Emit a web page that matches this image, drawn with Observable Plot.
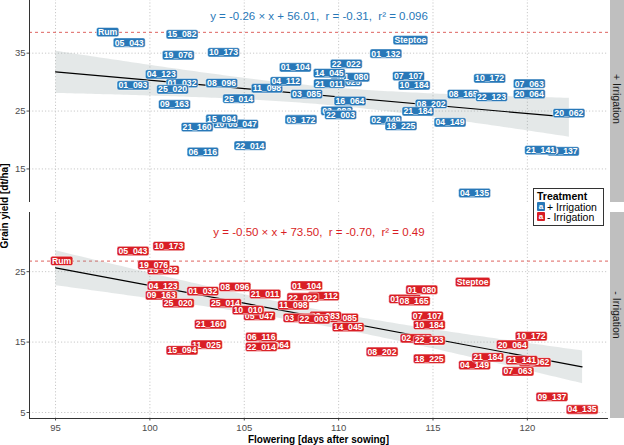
<!DOCTYPE html>
<html><head><meta charset="utf-8">
<script src="https://cdn.jsdelivr.net/npm/d3@7"></script>
<script src="https://cdn.jsdelivr.net/npm/@observablehq/plot@0.6"></script>
<style>
body{margin:0;background:#fff;font-family:"Liberation Sans",Arial,sans-serif;}
#wrap{position:relative;width:624px;height:445px;overflow:hidden;background:#fff;}
.pl{position:absolute;left:0;}
.strip{position:absolute;left:610px;width:14px;background:#bfbfbf;}
.strip span{position:absolute;left:50%;top:50%;transform:translate(-50%,-50%) rotate(90deg);white-space:nowrap;font-size:10.5px;color:#1a1a1a;}
#ylab{position:absolute;left:4px;top:206px;transform:translate(-50%,-50%) rotate(-90deg);white-space:nowrap;font-weight:bold;font-size:10px;color:#000;}
#xlab{position:absolute;left:318.5px;top:439px;transform:translate(-50%,-50%);white-space:nowrap;font-weight:bold;font-size:10px;color:#000;}
#legend{position:absolute;left:533px;top:188px;width:69px;height:36px;border:1px solid #333;background:#fff;font-size:10.5px;color:#000;}
#legend .t{position:absolute;left:3px;top:1px;font-weight:bold;font-size:10.5px;}
#legend .it{position:absolute;left:3px;white-space:nowrap;line-height:10px;}
#legend .sw{display:inline-block;width:8px;height:9px;color:#fff;font-weight:bold;font-size:8px;text-align:center;line-height:9px;border-radius:1px;margin-right:2px;vertical-align:top;}
</style></head><body><div id="wrap"></div>
<script>
// ---------- data ----------
const colorPlus = "#2878b8";
const colorMinus = "#d91e25";
const checkName = "Rum";

const genoPlus = ["Rum","05_043","15_082","19_076","10_173","01_032","04_123","01_093","25_020","08_096","09_163","25_014","11_098","10_010","05_047","15_094","21_160","06_116","22_014","01_104","04_112","03_085","03_172","22_022","11_025","01_080","14_045","21_011","16_064","03_083","22_003","01_132","Steptoe","07_107","10_184","02_049","18_225","08_202","21_184","04_149","08_165","22_123","10_172","07_063","20_064","20_062","09_137","21_141","04_135"];
const floweringPlus = [95,98.9,101.7,101.5,103.9,101.7,100.6,99.1,101.2,103.8,101.3,104.7,106.2,104.2,104.9,103.8,102.5,102.8,105.3,107.7,107.2,108.3,108.0,110.4,110.4,110.8,109.5,109.5,110.6,109.9,110.1,112.5,113.8,113.7,114.0,112.5,113.3,114.9,114.2,115.9,116.6,118.1,118.0,120.1,120.1,122.2,121.9,120.7,117.2];
const yieldPlus = [38.6,36.8,38.2,34.6,35.1,29.8,31.3,29.4,28.7,29.8,26.1,27.1,28.9,22.8,22.7,23.6,22.2,17.9,19.0,32.5,30.1,27.9,23.5,33.1,30.0,30.8,31.5,29.7,26.7,25.0,24.3,34.9,37.2,31.0,29.4,23.4,22.4,26.2,24.9,23.0,27.9,27.4,30.6,29.7,27.9,24.6,18.0,18.2,10.8];

const genoMinus = ["Rum","05_043","10_173","15_082","19_076","04_123","09_163","25_020","01_032","08_096","21_011","25_014","05_047","10_010","21_160","11_025","15_094","16_064","06_116","22_014","01_104","04_112","22_022","11_098","03_085","03_083","03_172","22_003","14_045","01_132","01_080","08_165","07_107","10_184","02_049","22_123","08_202","18_225","04_149","21_184","10_172","20_064","20_062","21_141","07_063","09_137","04_135","Steptoe"];
const floweringMinus = [95,99.1,101.0,100.7,100.2,100.7,100.6,101.5,102.8,104.5,106.1,104.0,105.8,105.2,103.2,103.0,101.7,106.6,105.9,105.9,108.3,109.2,108.1,107.6,110.2,109.3,107.9,108.7,110.5,113.5,114.4,114.0,114.7,114.8,114.1,114.8,112.3,114.8,117.2,117.9,120.2,119.2,120.4,119.7,119.5,121.3,122.9,117.1];
const yieldMinus = [26.5,27.9,28.6,25.2,25.95,23.0,21.6,20.5,22.2,22.8,21.8,20.5,18.7,19.5,17.5,14.6,13.8,14.6,15.7,14.3,23.0,21.5,21.3,20.2,18.4,18.7,18.4,18.2,17.1,21.1,22.4,20.8,18.7,17.4,15.5,15.2,13.6,12.6,11.7,12.8,15.8,14.6,12.1,12.4,10.8,7.2,5.4,23.5];

const eqPlus = "y = -0.26 × x + 56.01,  r = -0.31,  r² = 0.096";
const eqMinus = "y = -0.50 × x + 73.50,  r = -0.70,  r² = 0.49";
const stripPlus = "+ Irrigation";
const stripMinus = "- Irrigation";
const xTicks = [95,100,105,110,115,120];
const yTicksPlus = [15,25,35];
const yTicksMinus = [5,15,25];
const xDomain = [93.62,124.3];
const yDomainPlus = [9.2,44.79];
const yDomainMinus = [4.15,33.4];

// ---------- build ----------
const FONT = '"Liberation Sans", Arial, sans-serif';
const LABEL_FILL = "#fffffe";
const toRows = (g,f,y) => g.map((name,i)=>({name, x:f[i], y:y[i]}));
const rowsPlus = toRows(genoPlus, floweringPlus, yieldPlus);
const rowsMinus = toRows(genoMinus, floweringMinus, yieldMinus);

function panel(rows, color, eq, yDomain, yTicks, isBottom, rumDx){
  const check = rows.filter(d=>d.name===checkName);
  const others = rows.filter(d=>d.name!==checkName);
  const lab = {x:"x", y:"y", text:"name", fill:LABEL_FILL, fontSize:8.7, fontWeight:"bold"};
  const marks = [
    Plot.ruleX(xTicks, {stroke:"#c9c9c9", strokeDasharray:"1.2,2"}),
    Plot.ruleY(yTicks, {stroke:"#c9c9c9", strokeDasharray:"1.2,2"}),
    Plot.ruleY(check, {y:"y", stroke:"#d9534f", strokeOpacity:0.9, strokeDasharray:"3,3"}),
    Plot.linearRegressionY(rows, {x:"x", y:"y", stroke:"black", strokeWidth:1.2, fill:"#8b9c9c", fillOpacity:0.23}),
    Plot.ruleX([xDomain[0]], {stroke:"#333", strokeWidth:1}),
    Plot.text(check, {...lab, dx:rumDx}),
    Plot.text(others, lab),
    Plot.text([eq], {frameAnchor:"top", dy:15, text:d=>d, fill:color, fontSize:11.5})
  ];
  if(isBottom) marks.splice(5,0,Plot.ruleY([yDomain[0]], {stroke:"#333", strokeWidth:1}));
  return Plot.plot({
    width:624, height: isBottom ? 233 : 207,
    marginTop:0, marginBottom: isBottom ? 27 : 1, marginLeft:29, marginRight:16,
    style:{fontFamily:FONT, fontSize:"9.5px", color:"#4d4d4d", background:"transparent", overflow:"visible"},
    x:{domain:xDomain, ticks:xTicks, tickSize:2.5, tickPadding:3, label:null, axis: isBottom ? "bottom" : null},
    y:{domain:yDomain, ticks:yTicks, tickSize:2.5, tickPadding:1.5, label:null},
    marks
  });
}

function boxLabels(svg, color){
  svg.querySelectorAll(`g[fill="${LABEL_FILL}"] text`).forEach(t=>{
    const bb = t.getBBox();
    const r = document.createElementNS("http://www.w3.org/2000/svg","rect");
    r.setAttribute("x", bb.x-1.4);
    r.setAttribute("y", bb.y+0.35);
    r.setAttribute("width", bb.width+2.8);
    r.setAttribute("height", bb.height-0.7);
    r.setAttribute("rx", 2);
    r.setAttribute("fill", color);
    r.setAttribute("stroke", "white");
    r.setAttribute("stroke-width", 0.5);
    const tr = t.getAttribute("transform");
    if(tr) r.setAttribute("transform", tr);
    t.parentNode.insertBefore(r, t);
  });
}

const wrap = document.getElementById("wrap");
const top1 = document.createElement("div"); top1.className="pl"; top1.style.top="-4px";
const bot1 = document.createElement("div"); bot1.className="pl"; bot1.style.top="212px";
wrap.appendChild(top1); wrap.appendChild(bot1);
const svgTop = panel(rowsPlus, colorPlus, eqPlus, yDomainPlus, yTicksPlus, false, 52);
const svgBot = panel(rowsMinus, colorMinus, eqMinus, yDomainMinus, yTicksMinus, true, 6);
top1.appendChild(svgTop); bot1.appendChild(svgBot);
boxLabels(svgTop, colorPlus); boxLabels(svgBot, colorMinus);

function addDiv(html, cls, style){ const d=document.createElement("div"); if(cls) d.className=cls; if(style) d.setAttribute("style",style); d.innerHTML=html; wrap.appendChild(d); return d;}
addDiv(`<span>${stripPlus}</span>`, "strip", "top:-4px;height:206px;");
addDiv(`<span>${stripMinus}</span>`, "strip", "top:212px;height:206px;");
const yl = addDiv("Grain yield [dt/ha]"); yl.id="ylab";
const xl = addDiv("Flowering [days after sowing]"); xl.id="xlab";
const lg = addDiv(`<div class="t">Treatment</div>
<div class="it" style="top:13px"><span class="sw" style="background:${colorPlus}">a</span>${stripPlus}</div>
<div class="it" style="top:23px"><span class="sw" style="background:${colorMinus}">a</span>${stripMinus}</div>`);
lg.id="legend";
</script></body></html>
